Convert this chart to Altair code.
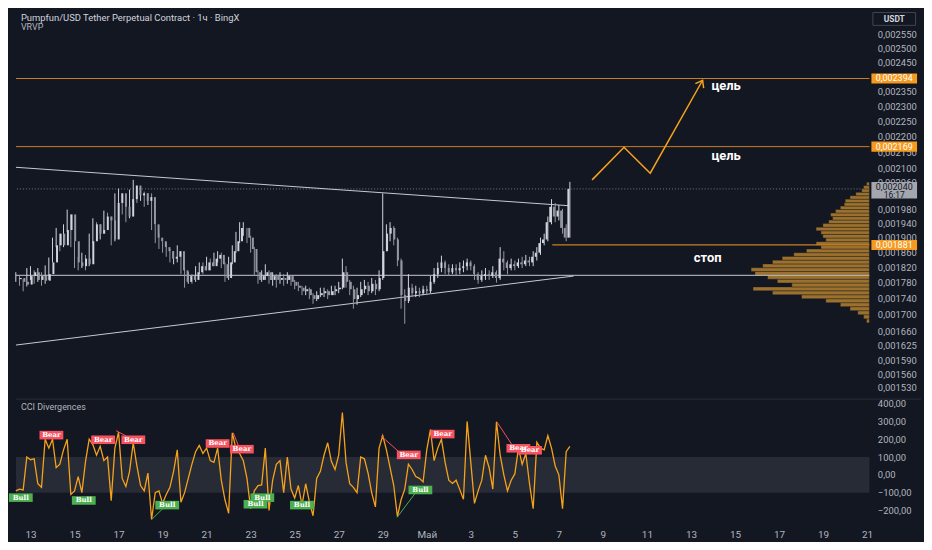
import altair as alt
import pandas as pd
import numpy as np

W, H1, H2 = 860, 388, 124
XMIN, XMAX = 12.339, 51.106
BG = "#131722"
TXT = "#b2b5be"
ORANGE_LINE = "#c87f22"
ORANGE = "#f7a21b"
TAG = "#f59a1e"
BEAR = "#f7525f"
BULL = "#4caf50"
FONT = "Roboto"

# ---------------- data ----------------
START_DAY = 12.333          # 12 Apr 08:00, 4-hour candles
STEP = 1 / 6
first_open = 1790
closes = [1793,1783,1776,1798,1808,1788,1798,1786,1803,1834,
          1880,1912,1880,1922,1966,1891,1834,1824,1844,1829,
          1891,1938,1912,1922,1960,1949,1896,1999,2027,1988,
          1960,2010,2050,2021,2027,2005,2016,1938,1901,1891,
          1875,1864,1844,1849,1864,1813,1783,1798,1788,1808,
          1824,1813,1834,1824,1844,1854,1829,1793,1834,1864,
          1891,1928,1928,1901,1870,1808,1788,1798,1808,1788,
          1798,1788,1793,1788,1798,1783,1773,1768,1759,1764,
          1749,1739,1749,1754,1759,1749,1759,1764,1768,1808,
          1783,1764,1739,1749,1764,1773,1759,1778,1764,1793,
          1864,1912,1928,1896,1839,1749,1734,1768,1754,1759,
          1754,1764,1759,1783,1803,1819,1834,1819,1808,1819,
          1813,1819,1824,1834,1824,1803,1788,1798,1803,1798,
          1808,1793,1844,1834,1819,1829,1824,1834,1829,1839,
          1834,1849,1860,1886,1896,1944,1988,1960,1977,1928,
          1901,2040]
highs = [1808,1798,1790,1819,1824,1813,1819,1808,1826,1847,
         1901,1928,1906,1938,1980,1966,1891,1849,1860,1854,
         1912,1955,1944,1938,1977,1971,1960,2027,2041,2021,
         1999,2038,2067,2050,2044,2032,2027,2027,1938,1912,
         1891,1886,1870,1864,1880,1864,1819,1808,1803,1824,
         1834,1834,1849,1844,1860,1864,1860,1834,1849,1880,
         1917,1944,1944,1928,1906,1875,1813,1813,1829,1813,
         1808,1803,1808,1803,1808,1798,1788,1783,1773,1773,
         1768,1754,1759,1768,1768,1764,1773,1773,1783,1844,
         1824,1788,1773,1768,1783,1788,1783,1793,1788,1813,
         2027,1938,1944,1933,1901,1844,1764,1803,1778,1773,
         1768,1773,1773,1798,1819,1834,1852,1839,1829,1829,
         1829,1834,1839,1844,1839,1829,1808,1813,1819,1813,
         1824,1813,1875,1864,1839,1844,1839,1844,1849,1854,
         1849,1864,1875,1901,1912,1960,2010,1999,1993,1982,
         1938,2061]
lows = [1783,1773,1759,1771,1788,1778,1783,1773,1778,1788,
        1834,1875,1864,1875,1917,1875,1819,1813,1819,1813,
        1824,1886,1901,1896,1912,1928,1880,1891,1982,1966,
        1944,1955,1999,1999,2005,1988,1993,1922,1886,1870,
        1860,1849,1834,1829,1834,1803,1768,1778,1778,1783,
        1803,1803,1813,1813,1824,1834,1819,1783,1788,1829,
        1860,1886,1906,1886,1860,1798,1778,1783,1788,1778,
        1773,1768,1778,1773,1778,1773,1764,1759,1749,1749,
        1739,1727,1734,1744,1744,1739,1749,1749,1754,1764,
        1768,1749,1715,1725,1744,1754,1749,1754,1749,1759,
        1788,1864,1891,1880,1824,1715,1678,1729,1744,1744,
        1744,1749,1749,1754,1778,1793,1808,1803,1798,1803,
        1798,1803,1808,1813,1813,1788,1778,1783,1788,1788,
        1793,1781,1788,1813,1803,1813,1813,1819,1819,1824,
        1824,1824,1839,1854,1880,1891,1938,1944,1949,1912,
        1891,1901]
cci_vals = [-90,-80,-85,100,85,90,-50,-70,200,150,
            200,40,60,140,200,-110,-90,-10,-100,76,
            200,170,110,160,80,100,-145,150,240,-20,
            -66,20,180,50,-60,-90,10,-250,-100,-90,
            -160,-110,-70,20,140,-154,-100,-20,60,130,
            165,120,150,80,70,150,-30,-140,-216,236,
            147,120,80,-20,-190,-90,-60,-57,150,-200,
            -30,59,80,-100,100,-80,-130,-60,-170,-50,
            -150,-230,-20,20,110,180,76,30,110,350,
            70,-50,-70,-100,100,90,10,-101,-180,150,
            220,140,40,-60,-234,-140,-80,60,30,-10,
            -20,-40,140,254,80,150,200,70,-30,-48,
            -30,-83,-137,300,70,-160,-90,-30,110,40,
            -80,298,112,0,-90,-30,5,150,59,120,
            -50,-190,183,150,140,220,150,50,0,-190,
            130,160]

profile_lo = list(range(1680, 2060, 10))
profile_vol = [3,6,12,20,30,45,70,100,120,80,
               95,105,118,122,110,100,90,78,65,50,
               55,45,48,50,55,48,42,38,40,35,
               30,26,25,20,14,8,6,3]

target_levels = [2394, 2169]
stop_level = 1881
stop_from_day = 36.70
support_level = 1800
last_price = 2040
last_time = "16:17"

trend_id = ["down", "down", "up", "up"]
trend_day = [12.339, 37.45, 12.339, 37.67]
trend_price = [2105, 1991, 1627, 1798]

arrow_day = [38.51, 39.96, 41.15, 43.53]
arrow_price = [2067, 2167, 2087, 2388]

note_text = ["цель", "цель", "стоп"]
note_day = [43.93, 43.93, 43.13]
note_price = [2369, 2140, 1846]

div_kind = ["Bull","Bear","Bull","Bear","Bear","Bull","Bear","Bear","Bull","Bull",
            "Bull","Bear","Bull","Bear","Bear","Bear"]
div_day = [12.56,13.95,15.42,16.30,17.67,19.21,21.50,22.60,23.53,23.22,
           25.33,30.18,30.71,31.72,35.16,35.69]
div_val = [-128,223,-144,197,197,-170,176,144,-128,-165,
           -170,112,-85,229,149,138]

seg_id = [1,1,2,2,3,3,4,4,5,5,6,6,7,7]
seg_kind = ["Bear","Bear","Bear","Bear","Bull","Bull","Bear","Bear","Bull","Bull","Bear","Bear","Bear","Bear"]
seg_day = [16.89,17.48,22.21,22.47,18.51,19.08,28.93,29.81,29.65,30.49,31.15,31.41,34.18,34.94]
seg_val = [248,209,236,156,-250,-181,218,121,-239,-101,255,234,298,156]

price_ticks = [2550,2500,2450,2350,2300,2250,2200,2150,2100,2060,1980,1940,
               1900,1860,1820,1780,1740,1700,1660,1625,1590,1560,1530]
cci_ticks = [-200,-100,0,100,200,300,400]
day_ticks = list(range(13, 52, 2))

# ---------------- frames ----------------
U = 1e-6
n = len(closes)
days = [START_DAY + i * STEP for i in range(n)]
opens = [first_open] + closes[:-1]
cd = pd.DataFrame({"day": days, "o": opens, "c": closes, "h": highs[:n], "l": lows[:n]})
cd["h"] = cd[["h", "o", "c"]].max(axis=1)
cd["l"] = cd[["l", "o", "c"]].min(axis=1)
cd["up"] = cd["c"] >= cd["o"]
for col in ["o", "c", "h", "l"]:
    cd[col] = cd[col] * U

cci_df = pd.DataFrame({"day": days[:len(cci_vals)], "v": cci_vals})
prof_df = pd.DataFrame({"lo": [p * U for p in profile_lo],
                        "hi": [(p + 10) * U for p in profile_lo],
                        "vol": profile_vol})
lvl_df = pd.DataFrame({"p": [p * U for p in target_levels],
                       "lab": ["0,%06d" % p for p in target_levels]})
stop_df = pd.DataFrame({"x0": [stop_from_day], "x1": [XMAX], "p": [stop_level * U],
                        "lab": ["0,%06d" % stop_level]})
sup_df = pd.DataFrame({"p": [support_level * U]})
cur_df = pd.DataFrame({"p": [last_price * U], "lab": ["0,%06d" % last_price], "t": [last_time]})
trend_df = pd.DataFrame({"id": trend_id, "day": trend_day, "p": [p * U for p in trend_price]})
arrow_df = pd.DataFrame({"seq": list(range(len(arrow_day))), "day": arrow_day,
                         "p": [p * U for p in arrow_price]})
head_df = arrow_df.tail(1)
note_df = pd.DataFrame({"t": note_text, "day": note_day, "p": [p * U for p in note_price]})
div_df = pd.DataFrame({"kind": div_kind, "day": div_day, "v": div_val})
seg_df = pd.DataFrame({"id": seg_id, "kind": seg_kind, "day": seg_day, "v": seg_val})
band_df = pd.DataFrame({"lo": [-100], "hi": [100]})
one = pd.DataFrame({"a": [0]})

# ---------------- scales / axes ----------------
xs = alt.Scale(domain=[XMIN, XMAX], nice=False, zero=False)
ys = alt.Scale(type="log", domain=[0.001511, 0.00264], nice=False)
yc = alt.Scale(domain=[-271, 420], nice=False, zero=False)

yax = alt.Axis(orient="right", values=[v * U for v in price_ticks],
               labelExpr="replace(format(datum.value, '.6f'), '.', ',')",
               title=None, grid=False, domain=False, ticks=False, labelPadding=8,
               labelColor=TXT, labelFontSize=9.5, labelFont=FONT, labelOverlap=False)
yax2 = alt.Axis(orient="right", values=cci_ticks,
                labelExpr="(datum.value < 0 ? '−' : '') + replace(format(abs(datum.value), '.2f'), '.', ',')",
                title=None, grid=False, domain=False, ticks=False, labelPadding=8,
                labelColor=TXT, labelFontSize=9.5, labelFont=FONT, labelOverlap=False)
xax = alt.Axis(orient="bottom", values=day_ticks,
               labelExpr="datum.value == 31 ? 'Май' : (datum.value > 31 ? '' + (datum.value - 30) : '' + datum.value)",
               title=None, grid=False, domain=False, ticks=False, labelPadding=7,
               labelColor=TXT, labelFontSize=10, labelFont=FONT, labelOverlap=False)


def Xm(f):
    return alt.X(f, type="quantitative", scale=xs, axis=None)


def Y(f):
    return alt.Y(f, type="quantitative", scale=ys, axis=yax)


def Xc(f):
    return alt.X(f, type="quantitative", scale=xs, axis=xax)


def Yc(f):
    return alt.Y(f, type="quantitative", scale=yc, axis=yax2)


candle_color = alt.condition("datum.up", alt.value("#d1d4dc"), alt.value("#9598a1"))
kind_color = alt.condition("datum.kind == 'Bear'", alt.value(BEAR), alt.value(BULL))

# ---------------- main pane ----------------
profile = alt.Chart(prof_df).mark_rect(color="#b5812f", opacity=0.85, stroke=BG, strokeWidth=0.4).encode(
    x=alt.X("vol:Q", scale=alt.Scale(domain=[0, 880], reverse=True, nice=False), axis=None),
    x2=alt.X2Datum(0),
    y=Y("lo"), y2="hi")
lvl_rules = alt.Chart(lvl_df).mark_rule(color=ORANGE_LINE, strokeWidth=1).encode(y=Y("p"))
sup_rule = alt.Chart(sup_df).mark_rule(color="#c9cbd1", strokeWidth=1).encode(y=Y("p"))
cur_rule = alt.Chart(cur_df).mark_rule(color="#787b86", strokeWidth=1, strokeDash=[1, 2]).encode(y=Y("p"))
stop_rule = alt.Chart(stop_df).mark_rule(color=ORANGE_LINE, strokeWidth=1.2).encode(
    x=Xm("x0"), x2="x1", y=Y("p"))
trend = alt.Chart(trend_df).mark_line(color="#c9cbd1", strokeWidth=1).encode(
    x=Xm("day"), y=Y("p"), detail="id:N")
wick = alt.Chart(cd).mark_rule(strokeWidth=1).encode(x=Xm("day"), y=Y("l"), y2="h", color=candle_color)
body = alt.Chart(cd).mark_bar(size=2).encode(x=Xm("day"), y=Y("o"), y2="c", color=candle_color)
arrow = alt.Chart(arrow_df).mark_line(color=ORANGE, strokeWidth=1.5).encode(
    x=Xm("day"), y=Y("p"), order="seq:Q")
head = alt.Chart(head_df).mark_point(shape="M-0.55,0.75L0,0L0.55,0.75", filled=False, strokeWidth=1.5,
                                     color=ORANGE, size=300, angle=29, opacity=1).encode(x=Xm("day"), y=Y("p"))
notes = alt.Chart(note_df).mark_text(color="#ffffff", fontSize=13, fontWeight="bold", align="left",
                                     baseline="middle", font=FONT).encode(x=Xm("day"), y=Y("p"), text="t:N")

tag_shape = "M-1,-0.22H1V0.22H-1Z"
tags = alt.Chart(lvl_df).mark_point(shape=tag_shape, filled=True, size=2116, color=TAG, opacity=1).encode(
    x=alt.value(W + 25), y=Y("p"))
tag_txt = alt.Chart(lvl_df).mark_text(color="#ffffff", fontSize=9, font=FONT, baseline="middle").encode(
    x=alt.value(W + 25), y=Y("p"), text="lab:N")
stag = alt.Chart(stop_df).mark_point(shape=tag_shape, filled=True, size=2116, color=TAG, opacity=1).encode(
    x=alt.value(W + 25), y=Y("p"))
stag_txt = alt.Chart(stop_df).mark_text(color="#ffffff", fontSize=9, font=FONT, baseline="middle").encode(
    x=alt.value(W + 25), y=Y("p"), text="lab:N")
ctag = alt.Chart(cur_df).mark_point(shape="M-1,-0.3H1V0.42H-1Z", filled=True, size=2116,
                                    color="#a3a6af", opacity=1).encode(x=alt.value(W + 25), y=Y("p"))
ctag_txt = alt.Chart(cur_df).mark_text(color="#131722", fontSize=9, font=FONT, baseline="middle", dy=-2).encode(
    x=alt.value(W + 25), y=Y("p"), text="lab:N")
ctag_t = alt.Chart(cur_df).mark_text(color="#131722", fontSize=8.5, font=FONT, baseline="middle", dy=6).encode(
    x=alt.value(W + 25), y=Y("p"), text="t:N")

title = alt.Chart(one).mark_text(text="Pumpfun/USD Tether Perpetual Contract · 1ч · BingX", align="left",
                                 baseline="middle", color="#d1d4dc", fontSize=9.5, font=FONT).encode(
    x=alt.value(5), y=alt.value(7))
vrvp = alt.Chart(one).mark_text(text="VRVP", align="left", baseline="middle", color=TXT,
                                fontSize=9, font=FONT).encode(x=alt.value(5), y=alt.value(16))
usdt_box = alt.Chart(one).mark_point(shape="M-1,-0.3H1V0.3H-1Z", filled=False, size=1849,
                                     color="#434651", strokeWidth=1, opacity=1).encode(
    x=alt.value(W + 25), y=alt.value(8))
usdt_txt = alt.Chart(one).mark_text(text="USDT", color="#d1d4dc", fontSize=8.5, fontWeight="bold",
                                    baseline="middle", font=FONT).encode(x=alt.value(W + 25), y=alt.value(8))

main = alt.layer(profile, lvl_rules, sup_rule, cur_rule, stop_rule, trend, wick, body, arrow, head, notes,
                 tags, tag_txt, stag, stag_txt, ctag, ctag_txt, ctag_t, title, vrvp, usdt_box, usdt_txt
                 ).resolve_scale(x="independent").properties(width=W, height=H1)

# ---------------- CCI pane ----------------
band = alt.Chart(band_df).mark_rect(color="#2a2e39", opacity=0.9).encode(
    x=alt.value(0), x2=alt.value(W), y=Yc("hi"), y2="lo")
cci_line = alt.Chart(cci_df).mark_line(color=ORANGE, strokeWidth=1.3).encode(x=Xc("day"), y=Yc("v"))
div_lines = alt.Chart(seg_df).mark_line(strokeWidth=1).encode(
    x=Xc("day"), y=Yc("v"), detail="id:N", color=kind_color)
div_boxes = alt.Chart(div_df).mark_point(shape="M-1,-0.36H1V0.36H-1Z", filled=True, size=576, opacity=1).encode(
    x=Xc("day"), y=Yc("v"), color=kind_color)
div_txt = alt.Chart(div_df).mark_text(color="#ffffff", fontSize=7, fontWeight="bold", baseline="middle",
                                      font="DejaVu Serif").encode(x=Xc("day"), y=Yc("v"), text="kind:N")
cci_title = alt.Chart(one).mark_text(text="CCI Divergences", align="left", baseline="middle", color=TXT,
                                     fontSize=9, font=FONT).encode(x=alt.value(5), y=alt.value(7))
sep = alt.Chart(one).mark_rule(color="#2a2e39", strokeWidth=1).encode(
    x=alt.value(0), x2=alt.value(W + 52), y=alt.value(-1))

cci = alt.layer(band, cci_line, div_lines, div_boxes, div_txt, cci_title, sep).properties(width=W, height=H2)

chart = alt.vconcat(main, cci, spacing=2, padding={"left": 0, "top": 0, "right": 2, "bottom": 0}
                    ).configure(background=BG, font=FONT).configure_view(strokeWidth=0)

chart.save("out.html", embed_options={"renderer": "svg", "actions": False})
